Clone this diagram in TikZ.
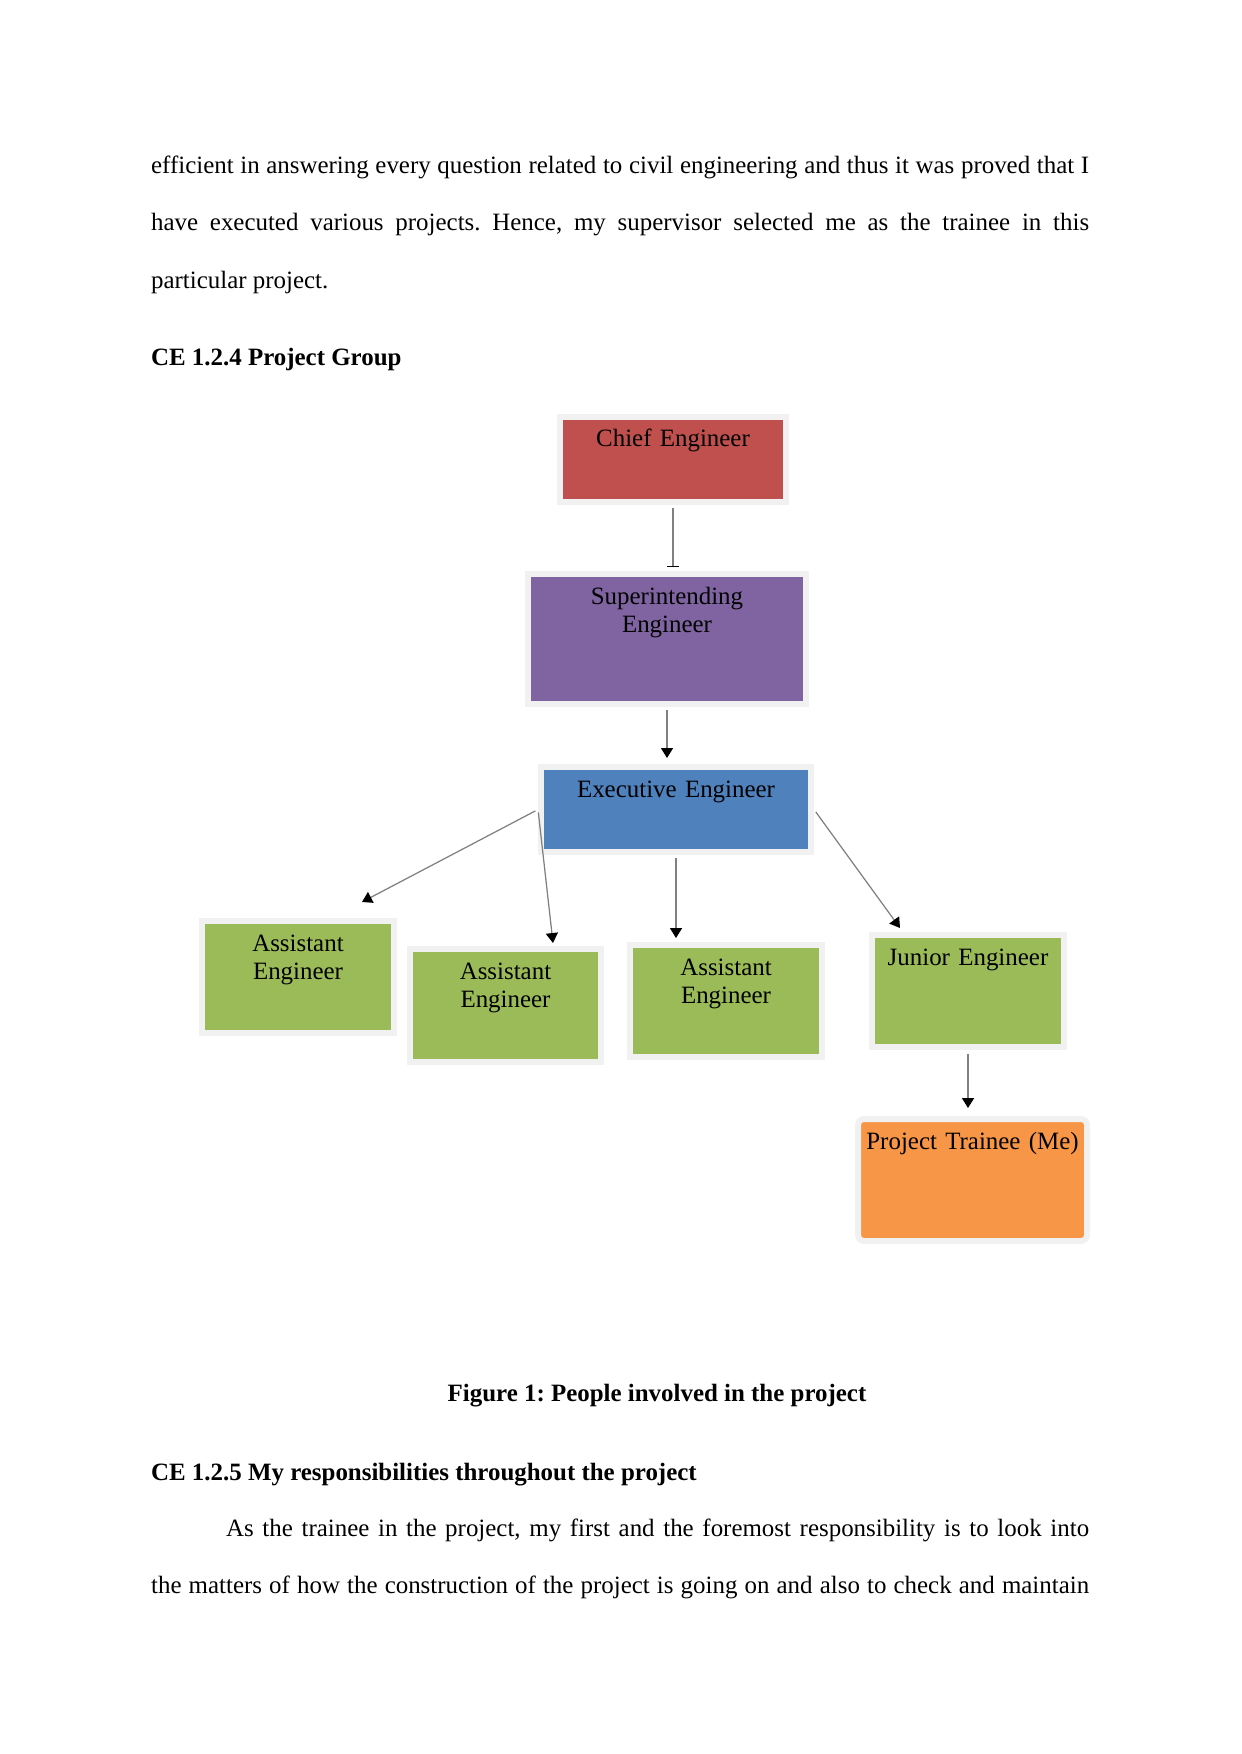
\documentclass[tikz,border=0pt]{standalone}
\usepackage{fontspec}
\setmainfont{Liberation Serif}
\usetikzlibrary{arrows.meta, positioning, calc}
\definecolor{chiefred}{HTML}{C0504D}
\definecolor{superpurple}{HTML}{8064A2}
\definecolor{execblue}{HTML}{4F81BD}
\definecolor{assistgreen}{HTML}{9BBB59}
\definecolor{traineeorange}{HTML}{F79646}
\definecolor{boxedge}{HTML}{F1F1F1}
\definecolor{linkgray}{HTML}{808080}
\newlength{\px}
\setlength{\px}{0.48147pt}
\frenchspacing

\begin{document}
\begin{tikzpicture}[x=0.0169219cm, y=-0.0169219cm,
  rolebox/.style={draw=boxedge, line width=6\px, inner sep=0pt, align=center, anchor=north,
    font=\fontsize{12}{13.7}\selectfont, text height=30\px},
  link/.style={draw=linkgray, line width=0.6pt, -{Triangle[black, length=4.8pt, width=5.8pt]}},
  bodytext/.style={inner sep=0pt, anchor=base west, font=\fontsize{12}{27.7}\selectfont}]
  \useasboundingbox (0,0) rectangle (1241,1754);

  % text above the chart
  \node[bodytext, text width=938\px, align=justify] (introtext) at (150.7,173.3)
    {efficient in answering every question related to civil engineering and thus it was proved that I\linebreak
     have executed various projects. Hence, my supervisor selected me as the trainee in this\linebreak
     particular project.};
  \node[bodytext, font=\fontsize{12}{14}\selectfont\bfseries] (grouphead) at (150.7,365.7) {CE 1.2.4 Project Group};

  % the chart boxes
  \node[rolebox, fill=chiefred, text width=226\px, text depth=55\px] (chief) at (673,414) {Chief Engineer};
  \node[rolebox, fill=superpurple, text width=278\px, text depth=100\px] (super) at (667,571) {Superintending\\Engineer};
  \node[rolebox, fill=execblue, text width=270\px, text depth=55\px] (exec) at (676,764) {Executive Engineer};
  \node[rolebox, fill=assistgreen, text width=192\px, text depth=82\px] (ae1) at (298,918) {Assistant\\Engineer};
  \node[rolebox, fill=assistgreen, text width=191\px, text depth=83\px] (ae2) at (505.5,946) {Assistant\\Engineer};
  \node[rolebox, fill=assistgreen, text width=192\px, text depth=82\px] (ae3) at (726,942) {Assistant\\Engineer};
  \node[rolebox, fill=assistgreen, text width=192\px, text depth=82\px] (junior) at (968,932) {Junior Engineer};
  \node[rolebox, fill=traineeorange, rounded corners=6\px, text width=229\px, text depth=92\px] (trainee) at (972.5,1116) {Project Trainee (Me)};

  % connectors
  \draw[link, -{Bar[black, width=5.8pt]}, shorten <=3\px, shorten >=4\px] (chief.south) -- (chief.south |- super.north);
  \draw[link, shorten <=3\px, shorten >=6\px] (super.south) -- (super.south |- exec.north);
  \draw[link, shorten <=3\px] (exec.west) -- ($(ae1.north)+(64,-16)$);
  \draw[link, shorten <=3\px] (exec.west) -- ($(ae2.north)+(47.5,-3)$);
  \draw[link, shorten <=3\px, shorten >=4\px] (exec.south) -- (exec.south |- ae3.north);
  \draw[link, shorten <=3\px] (exec.east) -- ($(junior.north)+(-68,-4)$);
  \draw[link, shorten <=4\px, shorten >=8\px] (junior.south) -- (junior.south |- trainee.north);

  % text below the chart
  \node[inner sep=0pt, anchor=base, font=\fontsize{12}{14}\selectfont\bfseries] (caption) at (657,1401.7)
    {Figure 1: People involved in the project};
  \node[bodytext, font=\fontsize{12}{14}\selectfont\bfseries] (dutyhead) at (150.7,1480)
    {CE 1.2.5 My responsibilities throughout the project};
  \node[bodytext, text width=938\px, align=justify] (dutytext) at (150.7,1536)
    {\hspace*{75\px}As the trainee in the project, my first and the foremost responsibility is to look into\linebreak
     \makebox[\linewidth][s]{the matters of how the construction of the project is going on and also to check and maintain}};
\end{tikzpicture}
\end{document}
